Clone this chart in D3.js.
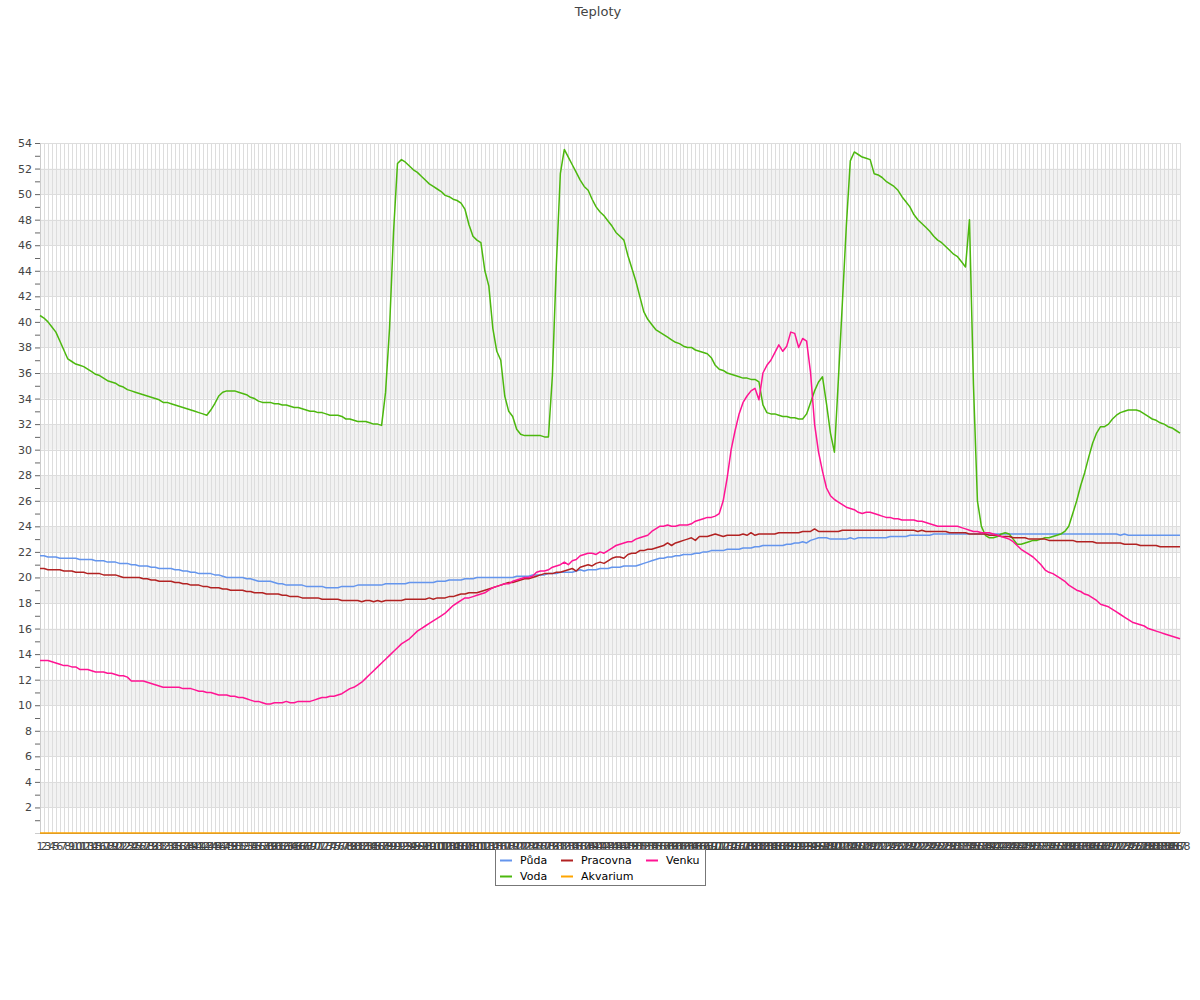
<!DOCTYPE html>
<html><head><meta charset="utf-8">
<script src="https://cdn.jsdelivr.net/npm/d3@7/dist/d3.min.js"></script>
<style>body{margin:0;background:#fff}svg{display:block}text{font-family:"DejaVu Sans",sans-serif}</style>
</head><body>
<script>
const title = "Teploty";
const categories = d3.range(1, 289).map(String);
const seriesNames = ["Půda", "Voda", "Pracovna", "Akvarium", "Venku"];
const seriesColors = ["#6495ED", "#4cb80e", "#B22222", "#FFA500", "#FF1493"];
const legendOrder = ["Půda", "Pracovna", "Venku", "Voda", "Akvarium"];
const yTicks = [2,4,6,8,10,12,14,16,18,20,22,24,26,28,30,32,34,36,38,40,42,44,46,48,50,52,54];

const puda = [
21.7,21.7,21.6,21.6,21.6,21.5,21.5,21.5,21.5,21.5,
21.4,21.4,21.4,21.4,21.3,21.3,21.3,21.2,21.2,21.2,
21.1,21.1,21.1,21.0,21.0,20.9,20.9,20.9,20.8,20.8,
20.7,20.7,20.7,20.7,20.6,20.6,20.5,20.5,20.4,20.4,
20.3,20.3,20.3,20.3,20.2,20.2,20.1,20.0,20.0,20.0,
20.0,20.0,19.9,19.9,19.8,19.7,19.7,19.7,19.7,19.6,
19.5,19.5,19.4,19.4,19.4,19.4,19.4,19.3,19.3,19.3,
19.3,19.3,19.2,19.2,19.2,19.2,19.3,19.3,19.3,19.3,
19.4,19.4,19.4,19.4,19.4,19.4,19.4,19.5,19.5,19.5,
19.5,19.5,19.5,19.6,19.6,19.6,19.6,19.6,19.6,19.6,
19.7,19.7,19.7,19.8,19.8,19.8,19.8,19.9,19.9,19.9,
20.0,20.0,20.0,20.0,20.0,20.0,20.0,20.0,20.0,20.0,
20.1,20.1,20.1,20.1,20.2,20.2,20.2,20.2,20.3,20.3,
20.3,20.4,20.4,20.4,20.4,20.5,20.6,20.5,20.6,20.6,
20.6,20.7,20.7,20.7,20.8,20.8,20.8,20.9,20.9,20.9,
20.9,21.0,21.1,21.2,21.3,21.4,21.5,21.5,21.6,21.6,
21.7,21.7,21.8,21.8,21.8,21.9,21.9,22.0,22.0,22.1,
22.1,22.1,22.1,22.2,22.2,22.2,22.2,22.3,22.3,22.3,
22.4,22.4,22.5,22.5,22.5,22.5,22.5,22.5,22.6,22.6,
22.7,22.7,22.8,22.7,22.9,23.0,23.1,23.1,23.1,23.0,
23.0,23.0,23.0,23.0,23.1,23.0,23.1,23.1,23.1,23.1,
23.1,23.1,23.1,23.1,23.2,23.2,23.2,23.2,23.2,23.3,
23.3,23.3,23.3,23.3,23.3,23.4,23.4,23.4,23.4,23.4,
23.4,23.4,23.4,23.4,23.4,23.4,23.4,23.4,23.4,23.4,
23.4,23.4,23.4,23.4,23.4,23.4,23.4,23.4,23.4,23.4,
23.4,23.4,23.4,23.4,23.4,23.4,23.4,23.4,23.4,23.4,
23.4,23.4,23.4,23.4,23.4,23.4,23.4,23.4,23.4,23.4,
23.4,23.4,23.3,23.4,23.3,23.3,23.3,23.3,23.3,23.3,
23.3,23.3,23.3,23.3,23.3,23.3,23.3,23.3];

const voda = [
40.5,40.3,40.0,39.6,39.2,38.5,37.8,37.1,36.9,36.7,
36.6,36.5,36.3,36.1,35.9,35.8,35.6,35.4,35.3,35.2,
35.0,34.9,34.7,34.6,34.5,34.4,34.3,34.2,34.1,34.0,
33.9,33.7,33.7,33.6,33.5,33.4,33.3,33.2,33.1,33.0,
32.9,32.8,32.7,33.1,33.6,34.2,34.5,34.6,34.6,34.6,
34.5,34.4,34.3,34.1,34.0,33.8,33.7,33.7,33.7,33.6,
33.6,33.5,33.5,33.4,33.3,33.3,33.2,33.1,33.0,33.0,
32.9,32.9,32.8,32.7,32.7,32.7,32.6,32.4,32.4,32.3,
32.2,32.2,32.2,32.1,32.0,32.0,31.9,34.5,39.5,47.0,
52.4,52.7,52.5,52.2,51.9,51.7,51.4,51.1,50.8,50.6,
50.4,50.2,49.9,49.8,49.6,49.5,49.3,48.8,47.6,46.7,
46.4,46.2,44.0,42.8,39.5,37.7,37.0,34.2,33.0,32.6,
31.6,31.2,31.1,31.1,31.1,31.1,31.1,31.0,31.0,35.8,
44.5,51.6,53.5,52.9,52.3,51.7,51.1,50.6,50.3,49.6,
49.0,48.6,48.3,47.9,47.5,47.0,46.7,46.4,45.2,44.2,
43.2,42.0,40.8,40.2,39.8,39.4,39.2,39.0,38.8,38.6,
38.4,38.3,38.1,38.0,38.0,37.8,37.7,37.6,37.5,37.2,
36.6,36.3,36.2,36.0,35.9,35.8,35.7,35.6,35.6,35.5,
35.5,35.3,33.5,32.9,32.8,32.8,32.7,32.6,32.6,32.5,
32.5,32.4,32.4,32.8,33.7,34.6,35.3,35.7,33.6,31.3,
29.8,35.5,41.5,47.5,52.6,53.3,53.1,52.9,52.8,52.7,
51.6,51.5,51.3,51.0,50.8,50.6,50.3,49.8,49.4,49.0,
48.4,48.0,47.7,47.4,47.1,46.7,46.4,46.2,45.9,45.6,
45.3,45.1,44.7,44.3,48.0,35.1,26.0,24.0,23.3,23.1,
23.1,23.2,23.4,23.5,23.4,23.0,22.6,22.6,22.7,22.8,
22.9,22.9,23.0,23.1,23.1,23.2,23.3,23.4,23.6,24.0,
25.0,26.0,27.2,28.2,29.4,30.5,31.3,31.8,31.8,32.0,
32.4,32.7,32.9,33.0,33.1,33.1,33.1,33.0,32.8,32.6,
32.4,32.3,32.1,32.0,31.8,31.7,31.5,31.3];

const pracovna = [
20.7,20.7,20.6,20.6,20.6,20.6,20.5,20.5,20.5,20.4,
20.4,20.4,20.3,20.3,20.3,20.3,20.2,20.2,20.2,20.2,
20.1,20.0,20.0,20.0,20.0,20.0,19.9,19.9,19.8,19.8,
19.7,19.7,19.7,19.7,19.6,19.6,19.5,19.5,19.4,19.4,
19.4,19.3,19.3,19.2,19.2,19.2,19.1,19.1,19.0,19.0,
19.0,19.0,18.9,18.9,18.8,18.8,18.8,18.7,18.7,18.7,
18.7,18.6,18.6,18.5,18.5,18.5,18.4,18.4,18.4,18.4,
18.4,18.3,18.3,18.3,18.3,18.3,18.2,18.2,18.2,18.2,
18.2,18.1,18.2,18.2,18.1,18.2,18.1,18.2,18.2,18.2,
18.2,18.2,18.3,18.3,18.3,18.3,18.3,18.3,18.4,18.3,
18.4,18.4,18.4,18.5,18.5,18.6,18.7,18.7,18.8,18.8,
18.8,18.9,19.0,19.1,19.2,19.3,19.4,19.5,19.6,19.6,
19.7,19.8,19.9,19.9,20.0,20.1,20.2,20.3,20.3,20.3,
20.4,20.4,20.5,20.6,20.7,20.5,20.8,20.9,21.0,20.9,
21.1,21.2,21.1,21.3,21.5,21.6,21.6,21.5,21.8,21.9,
21.9,22.1,22.1,22.2,22.2,22.3,22.4,22.5,22.7,22.5,
22.7,22.8,22.9,23.0,23.1,22.9,23.2,23.2,23.2,23.3,
23.4,23.3,23.2,23.3,23.3,23.3,23.3,23.4,23.3,23.5,
23.3,23.4,23.4,23.4,23.4,23.4,23.5,23.5,23.5,23.5,
23.5,23.5,23.6,23.6,23.6,23.8,23.6,23.6,23.6,23.6,
23.6,23.6,23.7,23.7,23.7,23.7,23.7,23.7,23.7,23.7,
23.7,23.7,23.7,23.7,23.7,23.7,23.7,23.7,23.7,23.7,
23.7,23.6,23.7,23.6,23.6,23.6,23.6,23.6,23.6,23.5,
23.5,23.5,23.5,23.5,23.4,23.4,23.4,23.4,23.4,23.3,
23.3,23.3,23.2,23.2,23.2,23.1,23.1,23.1,23.1,23.0,
23.0,23.0,23.0,23.0,22.9,22.9,22.9,22.9,22.9,22.9,
22.9,22.8,22.8,22.8,22.8,22.8,22.7,22.7,22.7,22.7,
22.7,22.7,22.7,22.6,22.6,22.6,22.6,22.5,22.5,22.5,
22.5,22.5,22.4,22.4,22.4,22.4,22.4,22.4];

const akvarium = [
0,0,0,0,0,0,0,0,0,0,0,0,0,0,0,0,0,0,0,0,0,0,0,0,0,0,0,0,0,0,
0,0,0,0,0,0,0,0,0,0,0,0,0,0,0,0,0,0,0,0,0,0,0,0,0,0,0,0,0,0,
0,0,0,0,0,0,0,0,0,0,0,0,0,0,0,0,0,0,0,0,0,0,0,0,0,0,0,0,0,0,
0,0,0,0,0,0,0,0,0,0,0,0,0,0,0,0,0,0,0,0,0,0,0,0,0,0,0,0,0,0,
0,0,0,0,0,0,0,0,0,0,0,0,0,0,0,0,0,0,0,0,0,0,0,0,0,0,0,0,0,0,
0,0,0,0,0,0,0,0,0,0,0,0,0,0,0,0,0,0,0,0,0,0,0,0,0,0,0,0,0,0,
0,0,0,0,0,0,0,0,0,0,0,0,0,0,0,0,0,0,0,0,0,0,0,0,0,0,0,0,0,0,
0,0,0,0,0,0,0,0,0,0,0,0,0,0,0,0,0,0,0,0,0,0,0,0,0,0,0,0,0,0,
0,0,0,0,0,0,0,0,0,0,0,0,0,0,0,0,0,0,0,0,0,0,0,0,0,0,0,0,0,0,
0,0,0,0,0,0,0,0,0,0,0,0,0,0,0,0,0,0];

const venku = [
13.5,13.5,13.5,13.4,13.3,13.2,13.1,13.1,13.0,13.0,
12.8,12.8,12.8,12.7,12.6,12.6,12.6,12.5,12.5,12.4,
12.3,12.3,12.2,11.9,11.9,11.9,11.9,11.8,11.7,11.6,
11.5,11.4,11.4,11.4,11.4,11.4,11.3,11.3,11.3,11.2,
11.1,11.1,11.0,11.0,10.9,10.8,10.8,10.8,10.7,10.7,
10.6,10.6,10.5,10.4,10.3,10.3,10.2,10.1,10.1,10.2,
10.2,10.2,10.3,10.2,10.2,10.3,10.3,10.3,10.3,10.4,
10.5,10.6,10.6,10.7,10.7,10.8,10.9,11.1,11.3,11.4,
11.6,11.8,12.1,12.4,12.7,13.0,13.3,13.6,13.9,14.2,
14.5,14.8,15.0,15.2,15.5,15.8,16.0,16.2,16.4,16.6,
16.8,17.0,17.2,17.5,17.8,18.0,18.2,18.4,18.4,18.5,
18.6,18.7,18.8,19.0,19.2,19.3,19.4,19.5,19.5,19.7,
19.8,19.9,20.0,20.0,20.1,20.4,20.5,20.5,20.6,20.8,
20.9,21.0,21.2,21.0,21.3,21.4,21.7,21.8,21.9,21.9,
21.8,22.0,21.9,22.1,22.3,22.5,22.6,22.7,22.8,22.8,
23.0,23.1,23.2,23.3,23.6,23.8,24.0,24.0,24.1,24.0,
24.0,24.1,24.1,24.1,24.2,24.4,24.5,24.6,24.7,24.7,
24.8,25.0,26.0,27.8,30.0,31.5,32.8,33.7,34.2,34.6,
34.8,33.9,36.0,36.6,37.0,37.6,38.2,37.7,38.1,39.2,
39.1,38.0,38.7,38.5,36.0,32.0,29.8,28.3,27.0,26.4,
26.1,25.9,25.7,25.5,25.4,25.3,25.1,25.0,25.1,25.1,
25.0,24.9,24.8,24.7,24.7,24.6,24.6,24.5,24.5,24.5,
24.5,24.4,24.4,24.3,24.2,24.1,24.0,24.0,24.0,24.0,
24.0,24.0,23.9,23.8,23.7,23.6,23.6,23.5,23.5,23.5,
23.4,23.3,23.2,23.1,23.0,22.8,22.5,22.2,22.0,21.8,
21.6,21.3,21.0,20.6,20.4,20.3,20.1,19.9,19.7,19.4,
19.2,19.0,18.9,18.7,18.6,18.4,18.2,17.9,17.8,17.7,
17.5,17.3,17.1,16.9,16.7,16.5,16.4,16.3,16.2,16.0,
15.9,15.8,15.7,15.6,15.5,15.4,15.3,15.2];

const seriesData = [puda, voda, pracovna, akvarium, venku];

const W = 1200, H = 1000;
const m = {left: 40, right: 20, top: 143, bottom: 167};
const svg = d3.select("body").append("svg").attr("width", W).attr("height", H);

const x = d3.scalePoint().domain(categories).range([m.left, W - m.right]);
const y = d3.scaleLinear().domain([0, 54]).range([H - m.bottom, m.top]);

// alternating bands
const bands = yTicks.filter(v => v % 4 === 2 && v + 2 <= 54);
svg.append("g").selectAll("rect").data(bands).join("rect")
  .attr("x", m.left).attr("width", W - m.right - m.left)
  .attr("y", d => y(d + 2)).attr("height", d => y(d) - y(d + 2))
  .attr("fill", "#f2f2f2");

// vertical grid
svg.append("g").selectAll("line").data(categories).join("line")
  .attr("x1", d => Math.round(x(d)) + 0.5).attr("x2", d => Math.round(x(d)) + 0.5)
  .attr("y1", m.top).attr("y2", H - m.bottom)
  .attr("stroke", "#dddddd").attr("stroke-width", 1);

// horizontal grid
svg.append("g").selectAll("line").data(yTicks).join("line")
  .attr("x1", m.left).attr("x2", W - m.right)
  .attr("y1", d => Math.round(y(d)) + 0.5).attr("y2", d => Math.round(y(d)) + 0.5)
  .attr("stroke", "#dddddd");

// y axis
const yAxis = svg.append("g").attr("transform", `translate(${m.left},0)`)
  .call(d3.axisLeft(y).tickValues(d3.range(1, 55)).tickSize(5)
    .tickFormat(d => d % 2 === 0 ? d : ""));
yAxis.select(".domain").attr("stroke", "#cccccc");
yAxis.selectAll(".tick line").attr("stroke", "#666");
yAxis.selectAll("text").attr("fill", "#444").style("font-size", "11px").attr("x", -8)
  .style("font-family", "DejaVu Sans");

// x axis line + labels
svg.append("line").attr("x1", m.left).attr("x2", W - m.right)
  .attr("y1", H - m.bottom + 0.5).attr("y2", H - m.bottom + 0.5).attr("stroke", "#888");
svg.append("g").selectAll("text").data(categories).join("text")
  .attr("x", d => x(d)).attr("y", H - m.bottom + 17)
  .attr("text-anchor", "middle").attr("fill", "#444").style("font-size", "11px")
  .text(d => d);

// lines
const line = d3.line().x((d, i) => x(categories[i])).y(d => y(d));
seriesData.forEach((s, k) => {
  svg.append("path").datum(s).attr("d", line).attr("fill", "none")
    .attr("stroke", seriesColors[k]).attr("stroke-width", 1.5)
    .attr("stroke-linejoin", "round");
});

// title
svg.append("text").attr("x", 598).attr("y", 16).attr("text-anchor", "middle")
  .attr("fill", "#444").style("font-size", "13px").text(title);

// legend
const lg = svg.append("g");
lg.append("rect").attr("x", 495.5).attr("y", 849.5).attr("width", 210).attr("height", 36)
  .attr("fill", "#fff").attr("stroke", "#777");
const colX = [500, 561, 646];
legendOrder.forEach((name, j) => {
  const k = seriesNames.indexOf(name);
  const cx = colX[j % 3], cy = 860 + Math.floor(j / 3) * 16;
  lg.append("line").attr("x1", cx).attr("x2", cx + 12).attr("y1", cy + 0.5).attr("y2", cy + 0.5)
    .attr("stroke", seriesColors[k]).attr("stroke-width", 2);
  lg.append("text").attr("x", cx + 20).attr("y", cy + 4).attr("fill", "#000")
    .style("font-size", "11px").text(name);
});
</script>
</body></html>
